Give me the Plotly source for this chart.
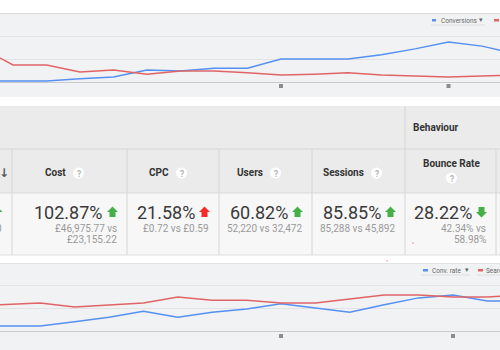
import plotly.graph_objects as go

W, H = 500, 350

# ---------------- data ----------------
weeks = list(range(-1, 16))
# top chart (index units)
conversions = [2, 2, 2, 7, 11, 26, 24, 30, 30, 50, 50, 50, 59, 72, 87, 78, 61]
cost_idx = [76, 37, 37, 22, 26, 17, 24, 24, 20, 15, 17, 20, 15, 13, 11, 13, 15]
# bottom chart (%)
conv_rate = [1.1, 1.1, 1.1, 2.0, 3.0, 4.3, 3.0, 4.1, 4.8, 5.9, 5.0, 4.1, 5.7, 7.2, 7.8, 6.5, 6.5]
search_share = [5.4, 5.7, 6.1, 5.2, 5.7, 6.1, 7.4, 6.7, 6.7, 6.1, 6.1, 7.0, 7.8, 7.8, 7.4, 7.4, 7.8]
note_weeks = [8, 13]

# table
metrics = ["Cost", "CPC", "Users", "Sessions", "Bounce Rate"]
changes = ["102.87%", "21.58%", "60.82%", "85.85%", "28.22%"]
current = ["£46,975.77", "£0.72", "52,220", "85,288", "42.34%"]
previous = ["£23,155.22", "£0.59", "32,472", "45,892", "58.98%"]
arrow_dir = ["up", "up", "up", "up", "down"]
arrow_good = [True, False, True, True, True]
group_label = "Behaviour"

# ---------------- helpers ----------------
def X(px):
    return px / W

def Y(py):
    return 1 - py / H

FONT = "Roboto"
BLUE = "#5590f2"
RED = "#e06464"
GREEN = "#45b047"
ARROW_RED = "#f52a2a"

fig = go.Figure()

# lines top
fig.add_trace(go.Scatter(x=weeks, y=conversions, mode="lines", line=dict(color=BLUE, width=1.5),
                         xaxis="x", yaxis="y", hoverinfo="skip"))
fig.add_trace(go.Scatter(x=weeks, y=cost_idx, mode="lines", line=dict(color=RED, width=1.5),
                         xaxis="x", yaxis="y", hoverinfo="skip"))
fig.add_trace(go.Scatter(x=note_weeks, y=[-8.7] * len(note_weeks), mode="markers",
                         marker=dict(symbol="square", size=4, color="#8c8c8c"),
                         xaxis="x", yaxis="y", hoverinfo="skip"))
# lines bottom
fig.add_trace(go.Scatter(x=weeks, y=conv_rate, mode="lines", line=dict(color=BLUE, width=1.5),
                         xaxis="x2", yaxis="y2", hoverinfo="skip"))
fig.add_trace(go.Scatter(x=weeks, y=search_share, mode="lines", line=dict(color=RED, width=1.5),
                         xaxis="x2", yaxis="y2", hoverinfo="skip"))
fig.add_trace(go.Scatter(x=note_weeks, y=[-1.09] * len(note_weeks), mode="markers",
                         marker=dict(symbol="square", size=4, color="#8c8c8c"),
                         xaxis="x2", yaxis="y2", hoverinfo="skip"))

shapes = []
ann = []

def rect(x0, y0, x1, y1, color):
    shapes.append(dict(type="rect", xref="paper", yref="paper", x0=X(x0), x1=X(x1),
                       y0=Y(y1), y1=Y(y0), fillcolor=color, line=dict(width=0), layer="above"))

def hline(x0, x1, y, color, w=1):
    shapes.append(dict(type="line", xref="paper", yref="paper", x0=X(x0), x1=X(x1),
                       y0=Y(y), y1=Y(y), line=dict(color=color, width=w), layer="above"))

def vline(x, y0, y1, color, w=1):
    shapes.append(dict(type="line", xref="paper", yref="paper", x0=X(x), x1=X(x),
                       y0=Y(y0), y1=Y(y1), line=dict(color=color, width=w), layer="above"))

def text(x, y, s, size, color, anchor="center", bold=False, family=FONT):
    ann.append(dict(xref="paper", yref="paper", x=X(x), y=Y(y), text=("<b>%s</b>" % s) if bold else s,
                    showarrow=False, xanchor=anchor, yanchor="middle",
                    font=dict(family=family, size=size, color=color), borderpad=0))

def arrow(cx, cy, direction, color):
    if direction == "up":
        pts = [(cx - 5.5, cy), (cx, cy - 5.5), (cx + 5.5, cy), (cx + 3, cy), (cx + 3, cy + 5),
               (cx - 3, cy + 5), (cx - 3, cy)]
    else:
        pts = [(cx - 5.5, cy), (cx, cy + 5.5), (cx + 5.5, cy), (cx + 3, cy), (cx + 3, cy - 5),
               (cx - 3, cy - 5), (cx - 3, cy)]
    path = "M " + " L ".join("%f,%f" % (X(a), Y(b)) for a, b in pts) + " Z"
    shapes.append(dict(type="path", xref="paper", yref="paper", path=path, fillcolor=color,
                       line=dict(width=0), layer="above"))

def qmark(cx, cy):
    shapes.append(dict(type="circle", xref="paper", yref="paper", x0=X(cx - 5.5), x1=X(cx + 5.5),
                       y0=Y(cy + 5.5), y1=Y(cy - 5.5), fillcolor="#ffffff", line=dict(width=0), layer="above"))
    text(cx, cy + 0.5, "?", 8.5, "#b5b5b5", bold=True)

# chart panel borders
hline(0, 500, 13.5, "#d9d9d9")
hline(0, 500, 263.5, "#e2e2e2")

# top legend
rect(432, 19, 436, 21.5, BLUE)
text(440, 20.5, "Conversions", 6.5, "#666666", anchor="left")
text(481, 20, "▾", 7, "#666666", family="DejaVu Sans")
hline(431, 485, 25, "#dedede")
rect(494, 19, 499, 21.5, RED)
# bottom legend
rect(423, 269, 428, 271.5, BLUE)
text(431, 270.5, "Conv. rate", 6.5, "#666666", anchor="left")
text(467, 270, "▾", 7, "#666666", family="DejaVu Sans")
hline(421, 470, 275, "#dedede")
rect(478, 269, 483, 271.5, RED)
text(485, 270.5, "Search Impr. share", 6.5, "#666666", anchor="left")
hline(477, 500, 275, "#dedede")

# table backgrounds
rect(0, 106, 500, 149, "#ebebeb")
rect(0, 149, 500, 193, "#ebebeb")
rect(0, 193, 500, 255, "#f7f7f7")
hline(0, 500, 149, "#d6d6d6")
hline(0, 500, 193, "#d9d9d9")
hline(0, 500, 255, "#dedede")
col_edges = [12, 127, 219, 312, 405, 496]
for e in col_edges:
    vline(e, 149, 255, "#d6d6d6")
vline(405, 106, 149, "#d6d6d6")
text(412, 127.5, group_label, 10, "#333333", anchor="left", bold=True)

# left partial column
text(4, 172.5, "↓", 12, "#5a5a5a", family="DejaVu Sans", bold=True)
arrow(-3, 212, "up", GREEN)
text(3, 228, "0", 10, "#9a9a9a", anchor="right")

label_right = [67, 170, 264, 365]
for i, m in enumerate(metrics):
    right = col_edges[i + 1]
    acx = right - 14.5
    if m == "Bounce Rate":
        cx = (col_edges[i] + right) / 2 + 1
        text(cx, 163, m, 10, "#333333", bold=True)
        qmark(cx, 178)
    else:
        text(label_right[i], 173, m, 10, "#333333", anchor="right", bold=True)
        qmark(label_right[i] + 11.5, 173)
    text(acx - 8.5, 212.5, changes[i], 18, "#3a3a3a", anchor="right")
    arrow(acx, 212, arrow_dir[i], GREEN if arrow_good[i] else ARROW_RED)
    if m in ("Cost", "Bounce Rate"):
        text(acx + 5, 228, current[i] + " vs", 10, "#9a9a9a", anchor="right")
        text(acx + 5, 239.5, previous[i], 10, "#9a9a9a", anchor="right")
    else:
        text(acx + 5, 228, current[i] + " vs " + previous[i], 10, "#9a9a9a", anchor="right")

# tiny red specks
rect(412.5, 242.5, 413.5, 243.5, "#e04040")
rect(386.5, 260.5, 387.5, 261.5, "#e04040")

grid = "#e2e3e5"
fig.update_layout(
    width=W, height=H, margin=dict(l=0, r=0, t=0, b=0, pad=0),
    paper_bgcolor="#ffffff", plot_bgcolor="#f1f2f4", showlegend=False,
    xaxis=dict(domain=[0, 1], range=[-0.388, 14.537], visible=False, anchor="y"),
    yaxis=dict(domain=[Y(97), Y(13)], range=[-32.61, 150], tickvals=[0, 50, 100, 150],
               showticklabels=False, ticks="", gridcolor=grid, zeroline=True,
               zerolinecolor="#c9cacc", zerolinewidth=1, showline=False, anchor="x"),
    xaxis2=dict(domain=[0, 1], range=[-0.1686, 14.366], visible=False, anchor="y2"),
    yaxis2=dict(domain=[0, Y(264)], range=[-4.13, 14.565], tickvals=[0, 5, 10],
                showticklabels=False, ticks="", gridcolor=grid, zeroline=True,
                zerolinecolor="#c9cacc", zerolinewidth=1, showline=False, anchor="x2"),
    shapes=shapes, annotations=ann,
    font=dict(family=FONT),
)

fig.write_html("out.html")
